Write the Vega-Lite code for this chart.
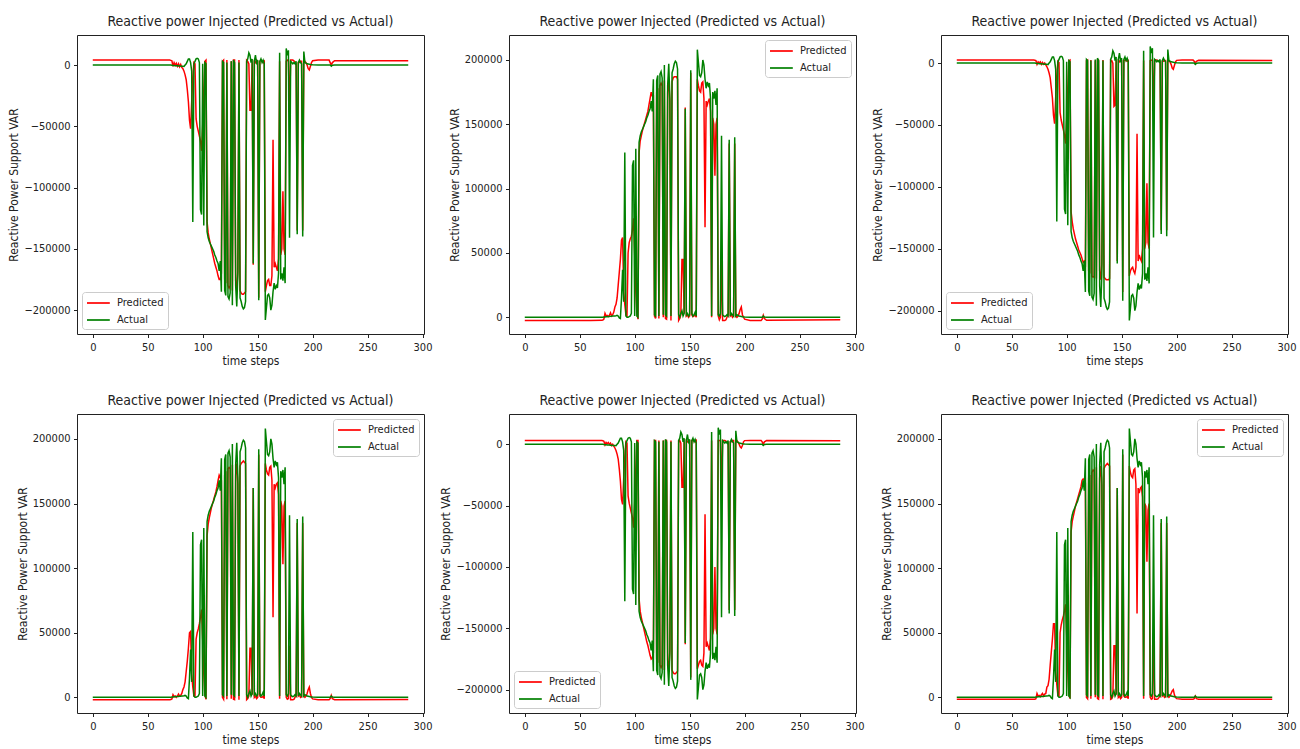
{
"$schema": "https://vega.github.io/schema/vega-lite/v6.json",
"padding": {"left": 7, "top": 14, "right": 0, "bottom": 0},
"background": "white",
"data": {"values": [
{"t":0,"ap":0,"an":0,"p1":4000,"p2":-2500,"p3":2400,"p4":-1800,"p5":3100,"p6":-1500},
{"t":60,"ap":0,"an":0,"p1":4000,"p2":-2500,"p3":2400,"p4":-1800,"p5":3100,"p6":-1500},
{"t":70,"ap":0,"an":0,"p1":4000,"p2":-2400,"p3":2400,"p4":-1800,"p5":3000,"p6":-1500},
{"t":71,"ap":0,"an":0,"p1":3800,"p2":-2200,"p3":2300,"p4":-1700,"p5":2900,"p6":-1400},
{"t":72,"ap":200,"an":-200,"p1":3500,"p2":-1500,"p3":2000,"p4":-1200,"p5":2500,"p6":-1000},
{"t":73,"ap":300,"an":-300,"p1":-1000,"p2":3000,"p3":-1000,"p4":2000,"p5":-500,"p6":3000},
{"t":74,"ap":400,"an":-400,"p1":2000,"p2":1000,"p3":1000,"p4":500,"p5":1500,"p6":1000},
{"t":75,"ap":500,"an":-500,"p1":0,"p2":1500,"p3":0,"p4":1000,"p5":500,"p6":1500},
{"t":76,"ap":600,"an":-600,"p1":1500,"p2":500,"p3":1000,"p4":0,"p5":1500,"p6":500},
{"t":77,"ap":600,"an":-600,"p1":-1000,"p2":1500,"p3":-1000,"p4":1000,"p5":0,"p6":2000},
{"t":78,"ap":700,"an":-700,"p1":1000,"p2":3500,"p3":500,"p4":2500,"p5":1000,"p6":3000},
{"t":79,"ap":800,"an":-800,"p1":-1500,"p2":1000,"p3":-1000,"p4":1000,"p5":-1000,"p6":1000},
{"t":80,"ap":900,"an":-900,"p1":500,"p2":2000,"p3":0,"p4":1500,"p5":0,"p6":2500},
{"t":81,"ap":1000,"an":-1000,"p1":-2000,"p2":4000,"p3":-1500,"p4":3000,"p5":-1500,"p6":3000},
{"t":82,"ap":1000,"an":-1000,"p1":-3000,"p2":8000,"p3":-3000,"p4":6000,"p5":-3000,"p6":8000},
{"t":83,"ap":1200,"an":-1200,"p1":-5000,"p2":10000,"p3":-5000,"p4":8000,"p5":-5000,"p6":9000},
{"t":84,"ap":1500,"an":0,"p1":-8000,"p2":15000,"p3":-8000,"p4":12000,"p5":-8000,"p6":14000},
{"t":85,"ap":1000,"an":1000,"p1":-12000,"p2":25000,"p3":-12000,"p4":20000,"p5":-12000,"p6":25000},
{"t":86,"ap":-500,"an":3000,"p1":-20000,"p2":35000,"p3":-20000,"p4":28000,"p5":-20000,"p6":35000},
{"t":87,"ap":-1000,"an":5000,"p1":-30000,"p2":45000,"p3":-28000,"p4":38000,"p5":-30000,"p6":45000},
{"t":88,"ap":15000,"an":5000,"p1":-45000,"p2":60000,"p3":-42000,"p4":50000,"p5":-45000,"p6":57000},
{"t":89,"ap":37000,"an":2000,"p1":-52000,"p2":62000,"p3":-49000,"p4":51000,"p5":-49000,"p6":57000},
{"t":90,"ap":12000,"an":-5000,"p1":-30000,"p2":20000,"p3":-28000,"p4":18000,"p5":-28000,"p6":20000},
{"t":91,"ap":128000,"an":-128000,"p1":-10000,"p2":10000,"p3":-10000,"p4":8000,"p5":-10000,"p6":10000},
{"t":92,"ap":1000,"an":1000,"p1":2000,"p2":2000,"p3":1500,"p4":1000,"p5":2000,"p6":1500},
{"t":93,"ap":0,"an":3000,"p1":1000,"p2":1000,"p3":500,"p4":1000,"p5":1000,"p6":1000},
{"t":94,"ap":0,"an":5000,"p1":-44000,"p2":50000,"p3":-40000,"p4":45000,"p5":-42000,"p6":50000},
{"t":95,"ap":500,"an":5500,"p1":-50000,"p2":58000,"p3":-46000,"p4":50000,"p5":-48000,"p6":56000},
{"t":96,"ap":1000,"an":5000,"p1":-54000,"p2":61000,"p3":-50000,"p4":53000,"p5":-52000,"p6":60000},
{"t":97,"ap":3000,"an":2000,"p1":-58000,"p2":63000,"p3":-54000,"p4":57000,"p5":-56000,"p6":63000},
{"t":98,"ap":118000,"an":-118000,"p1":-62000,"p2":68000,"p3":-58000,"p4":62000,"p5":-60000,"p6":67000},
{"t":99,"ap":122000,"an":-122000,"p1":-70000,"p2":77000,"p3":-65000,"p4":68000,"p5":-68000,"p6":72000},
{"t":100,"ap":1000,"an":1000,"p1":-50000,"p2":50000,"p3":-45000,"p4":45000,"p5":-48000,"p6":48000},
{"t":101,"ap":131000,"an":-131000,"p1":-20000,"p2":20000,"p3":-20000,"p4":18000,"p5":-20000,"p6":20000},
{"t":102,"ap":1000,"an":2000,"p1":3000,"p2":3000,"p3":2000,"p4":2000,"p5":3000,"p6":2000},
{"t":103,"ap":0,"an":1000,"p1":4000,"p2":-1500,"p3":2500,"p4":-1500,"p5":3000,"p6":-1000},
{"t":104,"ap":136000,"an":-136000,"p1":-128000,"p2":128000,"p3":-120000,"p4":125000,"p5":-126000,"p6":128000},
{"t":105,"ap":141000,"an":-141000,"p1":-137000,"p2":137000,"p3":-128000,"p4":134000,"p5":-136000,"p6":136000},
{"t":106,"ap":144000,"an":-144000,"p1":-142000,"p2":141000,"p3":-134000,"p4":139000,"p5":-141000,"p6":140000},
{"t":107,"ap":146000,"an":-146000,"p1":-146000,"p2":145000,"p3":-138000,"p4":143000,"p5":-145000,"p6":144000},
{"t":108,"ap":148000,"an":-148000,"p1":-150000,"p2":148000,"p3":-142000,"p4":147000,"p5":-149000,"p6":148000},
{"t":109,"ap":150000,"an":-150000,"p1":-154000,"p2":151000,"p3":-145000,"p4":150000,"p5":-153000,"p6":151000},
{"t":110,"ap":152000,"an":-152000,"p1":-158000,"p2":154000,"p3":-148000,"p4":153000,"p5":-157000,"p6":154000},
{"t":111,"ap":155000,"an":-155000,"p1":-162000,"p2":157000,"p3":-151000,"p4":156000,"p5":-161000,"p6":157000},
{"t":112,"ap":157000,"an":-157000,"p1":-165000,"p2":160000,"p3":-153000,"p4":159000,"p5":-164000,"p6":160000},
{"t":113,"ap":160000,"an":-160000,"p1":-168000,"p2":165000,"p3":-155000,"p4":163000,"p5":-168000,"p6":163000},
{"t":114,"ap":162000,"an":-162000,"p1":-172000,"p2":170000,"p3":-158000,"p4":168000,"p5":-172000,"p6":168000},
{"t":115,"ap":168000,"an":-168000,"p1":-175000,"p2":175000,"p3":-161000,"p4":172000,"p5":-175000,"p6":169000},
{"t":116,"ap":160000,"an":-160000,"p1":-175000,"p2":172000,"p3":-160000,"p4":170000,"p5":-174000,"p6":168000},
{"t":117,"ap":185000,"an":-185000,"p1":-170000,"p2":172000,"p3":-165000,"p4":168000,"p5":-170000,"p6":166000},
{"t":118,"ap":2000,"an":3000,"p1":3000,"p2":1000,"p3":2000,"p4":0,"p5":3000,"p6":0},
{"t":119,"ap":1000,"an":2000,"p1":4000,"p2":-1000,"p3":2500,"p4":-1500,"p5":3000,"p6":-1000},
{"t":120,"ap":184000,"an":-184000,"p1":-175000,"p2":175000,"p3":-168000,"p4":172000,"p5":-175000,"p6":170000},
{"t":121,"ap":188000,"an":-188000,"p1":-178000,"p2":178000,"p3":-170000,"p4":175000,"p5":-178000,"p6":172000},
{"t":122,"ap":1000,"an":2000,"p1":4000,"p2":-1000,"p3":2500,"p4":-1500,"p5":3000,"p6":-1000},
{"t":123,"ap":189000,"an":-189000,"p1":-180000,"p2":180000,"p3":-172000,"p4":177000,"p5":-180000,"p6":174000},
{"t":124,"ap":191000,"an":-191000,"p1":-182000,"p2":182000,"p3":-173000,"p4":178000,"p5":-182000,"p6":176000},
{"t":125,"ap":186000,"an":-186000,"p1":-180000,"p2":180000,"p3":-172000,"p4":177000,"p5":-180000,"p6":175000},
{"t":126,"ap":2000,"an":3000,"p1":3000,"p2":0,"p3":2000,"p4":-1000,"p5":3000,"p6":0},
{"t":127,"ap":196000,"an":-196000,"p1":-184000,"p2":184000,"p3":-174000,"p4":180000,"p5":-184000,"p6":178000},
{"t":128,"ap":2000,"an":4000,"p1":4000,"p2":-1000,"p3":2500,"p4":-1500,"p5":3000,"p6":-1000},
{"t":129,"ap":1000,"an":2000,"p1":4000,"p2":-1500,"p3":2400,"p4":-1800,"p5":3000,"p6":-1500},
{"t":130,"ap":180000,"an":-180000,"p1":-176000,"p2":175000,"p3":-168000,"p4":172000,"p5":-176000,"p6":170000},
{"t":131,"ap":197000,"an":-197000,"p1":-185000,"p2":185000,"p3":-175000,"p4":181000,"p5":-185000,"p6":179000},
{"t":132,"ap":170000,"an":-170000,"p1":-168000,"p2":168000,"p3":-162000,"p4":165000,"p5":-168000,"p6":164000},
{"t":133,"ap":1000,"an":2000,"p1":4000,"p2":-2500,"p3":2400,"p4":-1800,"p5":3000,"p6":-1500},
{"t":134,"ap":190000,"an":-190000,"p1":-184000,"p2":183000,"p3":-173000,"p4":179000,"p5":-184000,"p6":177000},
{"t":135,"ap":193000,"an":-193000,"p1":-186000,"p2":186000,"p3":-174000,"p4":181000,"p5":-186000,"p6":179000},
{"t":136,"ap":197000,"an":-197000,"p1":-187000,"p2":187000,"p3":-175000,"p4":182000,"p5":-187000,"p6":180000},
{"t":137,"ap":199000,"an":-199000,"p1":-187000,"p2":187000,"p3":-175000,"p4":183000,"p5":-187000,"p6":181000},
{"t":138,"ap":198000,"an":-198000,"p1":-186000,"p2":187000,"p3":-175000,"p4":182000,"p5":-186000,"p6":180000},
{"t":139,"ap":193000,"an":-193000,"p1":-185000,"p2":185000,"p3":-174000,"p4":181000,"p5":-185000,"p6":179000},
{"t":140,"ap":2000,"an":3000,"p1":4000,"p2":-2500,"p3":2400,"p4":-1800,"p5":3000,"p6":-1500},
{"t":141,"ap":0,"an":5000,"p1":3000,"p2":-1000,"p3":2000,"p4":-1000,"p5":3000,"p6":-1000},
{"t":142,"ap":3000,"an":10000,"p1":1000,"p2":2000,"p3":0,"p4":1000,"p5":1000,"p6":1000},
{"t":143,"ap":5000,"an":8000,"p1":-37000,"p2":45000,"p3":-35000,"p4":38000,"p5":-35000,"p6":40000},
{"t":144,"ap":1000,"an":2000,"p1":-37000,"p2":45000,"p3":-34000,"p4":38000,"p5":-35000,"p6":40000},
{"t":145,"ap":3000,"an":5000,"p1":2000,"p2":3000,"p3":2000,"p4":2000,"p5":2000,"p6":2000},
{"t":146,"ap":162000,"an":-162000,"p1":-163000,"p2":163000,"p3":-160000,"p4":162000,"p5":-163000,"p6":162000},
{"t":147,"ap":2000,"an":3000,"p1":3000,"p2":1000,"p3":2000,"p4":0,"p5":3000,"p6":0},
{"t":148,"ap":3000,"an":8000,"p1":2000,"p2":2000,"p3":1000,"p4":1000,"p5":2000,"p6":1000},
{"t":149,"ap":1000,"an":2000,"p1":4000,"p2":0,"p3":2500,"p4":-1000,"p5":3000,"p6":-1000},
{"t":150,"ap":2000,"an":4000,"p1":3000,"p2":1000,"p3":2000,"p4":0,"p5":3000,"p6":0},
{"t":151,"ap":192000,"an":-192000,"p1":-190000,"p2":190000,"p3":-185000,"p4":188000,"p5":-190000,"p6":188000},
{"t":152,"ap":3000,"an":3000,"p1":3000,"p2":2000,"p3":2000,"p4":1000,"p5":3000,"p6":1000},
{"t":153,"ap":1000,"an":5000,"p1":4000,"p2":500,"p3":2500,"p4":0,"p5":3000,"p6":0},
{"t":154,"ap":2000,"an":2000,"p1":3000,"p2":1000,"p3":2000,"p4":0,"p5":3000,"p6":0},
{"t":155,"ap":4000,"an":4000,"p1":2000,"p2":2000,"p3":1500,"p4":1000,"p5":2000,"p6":1000},
{"t":156,"ap":1000,"an":1000,"p1":3000,"p2":0,"p3":2000,"p4":-1000,"p5":3000,"p6":-1000},
{"t":157,"ap":208000,"an":-208000,"p1":-185000,"p2":185000,"p3":-172000,"p4":181000,"p5":-183000,"p6":179000},
{"t":158,"ap":198000,"an":-198000,"p1":-180000,"p2":180000,"p3":-168000,"p4":176000,"p5":-180000,"p6":174000},
{"t":159,"ap":188000,"an":-188000,"p1":-176000,"p2":176000,"p3":-166000,"p4":173000,"p5":-177000,"p6":171000},
{"t":160,"ap":187000,"an":-187000,"p1":-175000,"p2":175000,"p3":-165000,"p4":172000,"p5":-176000,"p6":170000},
{"t":161,"ap":190000,"an":-190000,"p1":-180000,"p2":182000,"p3":-168000,"p4":178000,"p5":-180000,"p6":176000},
{"t":162,"ap":200000,"an":-200000,"p1":-180000,"p2":183000,"p3":-170000,"p4":179000,"p5":-181000,"p6":177000},
{"t":163,"ap":196000,"an":-196000,"p1":-172000,"p2":170000,"p3":-165000,"p4":168000,"p5":-170000,"p6":165000},
{"t":164,"ap":185000,"an":-185000,"p1":-61000,"p2":70000,"p3":-57000,"p4":62000,"p5":-57000,"p6":65000},
{"t":165,"ap":178000,"an":-178000,"p1":-165000,"p2":168000,"p3":-160000,"p4":165000,"p5":-165000,"p6":162000},
{"t":166,"ap":183000,"an":-183000,"p1":-162000,"p2":165000,"p3":-155000,"p4":162000,"p5":-162000,"p6":158000},
{"t":167,"ap":180000,"an":-180000,"p1":-165000,"p2":168000,"p3":-158000,"p4":165000,"p5":-165000,"p6":162000},
{"t":168,"ap":182000,"an":-182000,"p1":-168000,"p2":170000,"p3":-160000,"p4":166000,"p5":-168000,"p6":163000},
{"t":169,"ap":170000,"an":-170000,"p1":-158000,"p2":160000,"p3":-150000,"p4":157000,"p5":-158000,"p6":155000},
{"t":170,"ap":1000,"an":10000,"p1":3000,"p2":0,"p3":2000,"p4":-1000,"p5":3000,"p6":-1000},
{"t":171,"ap":175000,"an":-175000,"p1":-155000,"p2":155000,"p3":-150000,"p4":152000,"p5":-155000,"p6":150000},
{"t":172,"ap":170000,"an":-170000,"p1":-150000,"p2":150000,"p3":-145000,"p4":148000,"p5":-150000,"p6":148000},
{"t":173,"ap":176000,"an":-176000,"p1":-103000,"p2":110000,"p3":-97000,"p4":103000,"p5":-100000,"p6":105000},
{"t":174,"ap":165000,"an":-165000,"p1":-150000,"p2":150000,"p3":-145000,"p4":148000,"p5":-150000,"p6":145000},
{"t":175,"ap":178000,"an":-178000,"p1":-155000,"p2":155000,"p3":-150000,"p4":152000,"p5":-155000,"p6":150000},
{"t":176,"ap":2000,"an":13500,"p1":3000,"p2":1000,"p3":2000,"p4":0,"p5":3000,"p6":0},
{"t":177,"ap":1000,"an":8000,"p1":4000,"p2":-2000,"p3":2500,"p4":-1500,"p5":3000,"p6":-1500},
{"t":178,"ap":3000,"an":12000,"p1":3000,"p2":0,"p3":2000,"p4":-1000,"p5":3000,"p6":-1000},
{"t":179,"ap":141000,"an":-141000,"p1":-40000,"p2":45000,"p3":-40000,"p4":40000,"p5":-40000,"p6":50000},
{"t":180,"ap":2000,"an":3000,"p1":4000,"p2":-2500,"p3":2400,"p4":-1800,"p5":3000,"p6":-1500},
{"t":181,"ap":1000,"an":2000,"p1":4000,"p2":-2500,"p3":2400,"p4":-1800,"p5":3000,"p6":-1500},
{"t":182,"ap":500,"an":1000,"p1":4000,"p2":-2500,"p3":2400,"p4":-1800,"p5":3000,"p6":-1500},
{"t":183,"ap":1000,"an":2000,"p1":3500,"p2":-2000,"p3":2000,"p4":-1500,"p5":2500,"p6":-1200},
{"t":184,"ap":2000,"an":1000,"p1":2000,"p2":0,"p3":1500,"p4":0,"p5":2000,"p6":0},
{"t":185,"ap":1000,"an":3000,"p1":1000,"p2":2000,"p3":1000,"p4":1500,"p5":1000,"p6":1500},
{"t":186,"ap":138000,"an":-138000,"p1":-135000,"p2":135000,"p3":-135000,"p4":135000,"p5":-135000,"p6":135000},
{"t":187,"ap":1000,"an":2000,"p1":2000,"p2":1000,"p3":1500,"p4":1000,"p5":2000,"p6":1000},
{"t":188,"ap":3000,"an":4000,"p1":2000,"p2":2000,"p3":1500,"p4":2000,"p5":2000,"p6":2000},
{"t":189,"ap":2000,"an":2000,"p1":3000,"p2":0,"p3":2000,"p4":0,"p5":3000,"p6":0},
{"t":190,"ap":1000,"an":1000,"p1":3000,"p2":1000,"p3":2000,"p4":500,"p5":3000,"p6":500},
{"t":191,"ap":140000,"an":-140000,"p1":-135000,"p2":135000,"p3":-135000,"p4":135000,"p5":-135000,"p6":135000},
{"t":192,"ap":1000,"an":11000,"p1":2000,"p2":1000,"p3":1500,"p4":1000,"p5":2000,"p6":1000},
{"t":193,"ap":2000,"an":2000,"p1":3000,"p2":0,"p3":2000,"p4":0,"p5":3000,"p6":0},
{"t":194,"ap":1500,"an":1500,"p1":2000,"p2":1000,"p3":1000,"p4":1000,"p5":2000,"p6":1000},
{"t":195,"ap":1000,"an":1000,"p1":0,"p2":3000,"p3":-1000,"p4":3000,"p5":0,"p6":3000},
{"t":196,"ap":800,"an":800,"p1":-3000,"p2":6000,"p3":-4000,"p4":6000,"p5":-2000,"p6":5000},
{"t":197,"ap":600,"an":600,"p1":-4000,"p2":8000,"p3":-5000,"p4":8000,"p5":-3000,"p6":6000},
{"t":198,"ap":400,"an":400,"p1":-1000,"p2":2000,"p3":-2000,"p4":3000,"p5":-1000,"p6":2000},
{"t":199,"ap":300,"an":300,"p1":2000,"p2":0,"p3":1000,"p4":0,"p5":2000,"p6":0},
{"t":200,"ap":200,"an":200,"p1":3500,"p2":-1500,"p3":2200,"p4":-1200,"p5":3000,"p6":-1000},
{"t":205,"ap":100,"an":100,"p1":4000,"p2":-2500,"p3":2400,"p4":-1800,"p5":3200,"p6":-1500},
{"t":215,"ap":100,"an":100,"p1":4000,"p2":-2500,"p3":2400,"p4":-1800,"p5":3200,"p6":-1500},
{"t":216,"ap":100,"an":100,"p1":2000,"p2":-1500,"p3":1500,"p4":-1000,"p5":2000,"p6":-1000},
{"t":217,"ap":1000,"an":-1000,"p1":0,"p2":1500,"p3":0,"p4":1500,"p5":0,"p6":1000},
{"t":218,"ap":200,"an":-200,"p1":2000,"p2":-1000,"p3":1500,"p4":-1000,"p5":2000,"p6":-1000},
{"t":220,"ap":0,"an":0,"p1":3500,"p2":-2300,"p3":2300,"p4":-1800,"p5":3000,"p6":-1500},
{"t":287,"ap":0,"an":0,"p1":3500,"p2":-2000,"p3":2000,"p4":-1600,"p5":2800,"p6":-1400}
]},
"columns": 3,
"spacing": {"row": 80, "column": 85},
"bounds": "flush",
"resolve": {"scale": {"x": "independent", "y": "independent", "color": "independent"}, "axis": {"x": "independent", "y": "independent"}, "legend": {"color": "independent"}},
"concat": [
{"width": 347, "height": 299, "title": "Reactive power Injected (Predicted vs Actual)",
 "encoding": {"x": {"field": "t", "type": "quantitative", "scale": {"domain": [-14.35, 301.35], "nice": false, "zero": false}, "axis": {"values": [0,50,100,150,200,250,300], "title": "time steps"}}},
 "layer": [
  {"mark": {"type": "line", "strokeWidth": 1.5}, "encoding": {"y": {"field": "p1", "type": "quantitative", "scale": {"domain": [-219500, 24500], "nice": false, "zero": false}, "axis": {"values": [0,-50000,-100000,-150000,-200000], "format": "d", "title": "Reactive Power Support VAR"}}, "color": {"datum": "Predicted", "type": "nominal", "scale": {"domain": ["Predicted","Actual"], "range": ["#ff0000","#008000"]}, "legend": {"orient": "bottom-left", "title": null}}}},
  {"mark": {"type": "line", "strokeWidth": 1.5}, "encoding": {"y": {"field": "an", "type": "quantitative"}, "color": {"datum": "Actual", "type": "nominal"}}}
 ]},
{"width": 347, "height": 299, "title": "Reactive power Injected (Predicted vs Actual)",
 "encoding": {"x": {"field": "t", "type": "quantitative", "scale": {"domain": [-14.35, 301.35], "nice": false, "zero": false}, "axis": {"values": [0,50,100,150,200,250,300], "title": "time steps"}}},
 "layer": [
  {"mark": {"type": "line", "strokeWidth": 1.5}, "encoding": {"y": {"field": "p2", "type": "quantitative", "scale": {"domain": [-13000, 219400], "nice": false, "zero": false}, "axis": {"values": [0,50000,100000,150000,200000], "format": "d", "title": "Reactive Power Support VAR"}}, "color": {"datum": "Predicted", "type": "nominal", "scale": {"domain": ["Predicted","Actual"], "range": ["#ff0000","#008000"]}, "legend": {"orient": "top-right", "title": null}}}},
  {"mark": {"type": "line", "strokeWidth": 1.5}, "encoding": {"y": {"field": "ap", "type": "quantitative"}, "color": {"datum": "Actual", "type": "nominal"}}}
 ]},
{"width": 347, "height": 299, "title": "Reactive power Injected (Predicted vs Actual)",
 "encoding": {"x": {"field": "t", "type": "quantitative", "scale": {"domain": [-14.35, 301.35], "nice": false, "zero": false}, "axis": {"values": [0,50,100,150,200,250,300], "title": "time steps"}}},
 "layer": [
  {"mark": {"type": "line", "strokeWidth": 1.5}, "encoding": {"y": {"field": "p3", "type": "quantitative", "scale": {"domain": [-218900, 22700], "nice": false, "zero": false}, "axis": {"values": [0,-50000,-100000,-150000,-200000], "format": "d", "title": "Reactive Power Support VAR"}}, "color": {"datum": "Predicted", "type": "nominal", "scale": {"domain": ["Predicted","Actual"], "range": ["#ff0000","#008000"]}, "legend": {"orient": "bottom-left", "title": null}}}},
  {"mark": {"type": "line", "strokeWidth": 1.5}, "encoding": {"y": {"field": "an", "type": "quantitative"}, "color": {"datum": "Actual", "type": "nominal"}}}
 ]},
{"width": 347, "height": 299, "title": "Reactive power Injected (Predicted vs Actual)",
 "encoding": {"x": {"field": "t", "type": "quantitative", "scale": {"domain": [-14.35, 301.35], "nice": false, "zero": false}, "axis": {"values": [0,50,100,150,200,250,300], "title": "time steps"}}},
 "layer": [
  {"mark": {"type": "line", "strokeWidth": 1.5}, "encoding": {"y": {"field": "p4", "type": "quantitative", "scale": {"domain": [-12100, 219300], "nice": false, "zero": false}, "axis": {"values": [0,50000,100000,150000,200000], "format": "d", "title": "Reactive Power Support VAR"}}, "color": {"datum": "Predicted", "type": "nominal", "scale": {"domain": ["Predicted","Actual"], "range": ["#ff0000","#008000"]}, "legend": {"orient": "top-right", "title": null}}}},
  {"mark": {"type": "line", "strokeWidth": 1.5}, "encoding": {"y": {"field": "ap", "type": "quantitative"}, "color": {"datum": "Actual", "type": "nominal"}}}
 ]},
{"width": 347, "height": 299, "title": "Reactive power Injected (Predicted vs Actual)",
 "encoding": {"x": {"field": "t", "type": "quantitative", "scale": {"domain": [-14.35, 301.35], "nice": false, "zero": false}, "axis": {"values": [0,50,100,150,200,250,300], "title": "time steps"}}},
 "layer": [
  {"mark": {"type": "line", "strokeWidth": 1.5}, "encoding": {"y": {"field": "p5", "type": "quantitative", "scale": {"domain": [-219000, 24700], "nice": false, "zero": false}, "axis": {"values": [0,-50000,-100000,-150000,-200000], "format": "d", "title": "Reactive Power Support VAR"}}, "color": {"datum": "Predicted", "type": "nominal", "scale": {"domain": ["Predicted","Actual"], "range": ["#ff0000","#008000"]}, "legend": {"orient": "bottom-left", "title": null}}}},
  {"mark": {"type": "line", "strokeWidth": 1.5}, "encoding": {"y": {"field": "an", "type": "quantitative"}, "color": {"datum": "Actual", "type": "nominal"}}}
 ]},
{"width": 347, "height": 299, "title": "Reactive power Injected (Predicted vs Actual)",
 "encoding": {"x": {"field": "t", "type": "quantitative", "scale": {"domain": [-14.35, 301.35], "nice": false, "zero": false}, "axis": {"values": [0,50,100,150,200,250,300], "title": "time steps"}}},
 "layer": [
  {"mark": {"type": "line", "strokeWidth": 1.5}, "encoding": {"y": {"field": "p6", "type": "quantitative", "scale": {"domain": [-12100, 219300], "nice": false, "zero": false}, "axis": {"values": [0,50000,100000,150000,200000], "format": "d", "title": "Reactive Power Support VAR"}}, "color": {"datum": "Predicted", "type": "nominal", "scale": {"domain": ["Predicted","Actual"], "range": ["#ff0000","#008000"]}, "legend": {"orient": "top-right", "title": null}}}},
  {"mark": {"type": "line", "strokeWidth": 1.5}, "encoding": {"y": {"field": "ap", "type": "quantitative"}, "color": {"datum": "Actual", "type": "nominal"}}}
 ]}
],
"config": {
 "font": "Liberation Sans Narrow, DejaVu Sans Condensed, Roboto",
 "view": {"stroke": "#222", "strokeWidth": 1},
 "axis": {"domain": false, "grid": false, "tickColor": "#222", "tickSize": 3.5, "labelPadding": 3.5, "labelFontSize": 11, "labelColor": "#222", "titleFontSize": 12, "titleFontWeight": "normal", "titleColor": "#222", "titlePadding": 3},
 "legend": {"symbolType": "M-1,0H2.8", "symbolSize": 144, "symbolStrokeWidth": 1.7, "labelFontSize": 11, "labelColor": "#222", "strokeColor": "#ccc", "fillColor": "rgba(255,255,255,0.85)", "padding": 4, "cornerRadius": 3, "rowPadding": 5, "labelOffset": 17, "offset": 5},
 "title": {"fontSize": 14, "fontWeight": "normal", "color": "#222", "offset": 6, "anchor": "middle"}
}
}
